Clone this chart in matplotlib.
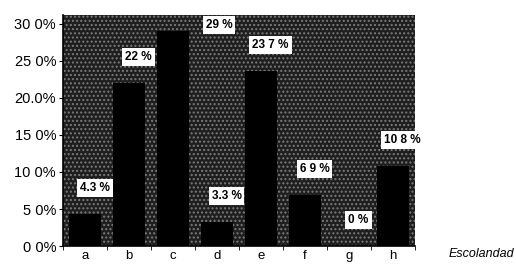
import numpy as np
import matplotlib
matplotlib.use("Agg")
import matplotlib.pyplot as plt
from matplotlib.patches import Rectangle

plt.rcParams['font.family'] = ['Liberation Sans', 'DejaVu Sans']

categories = ['a', 'b', 'c', 'd', 'e', 'f', 'g', 'h']
values = [4.3, 22.0, 29.0, 3.3, 23.7, 6.9, 0.0, 10.8]
bar_labels = ['4.3 %', '22 %', '29 %', '3.3 %', '23 7 %', '6 9 %', '0 %', '10 8 %']
ytick_vals = [0, 5, 10, 15, 20, 25, 30]
ytick_text = ['0 0%', '5 0%', '10 0%', '15 0%', '20.0%', '25 0%', '30 0%']
xname = 'Escolandad'

fig = plt.figure(figsize=(5.16, 2.68), dpi=100)
ax = fig.add_axes([0.122, 0.082, 0.682, 0.862])

# dark halftone-looking background
ax.set_facecolor('#1e1e1e')
ax.add_patch(Rectangle((0, 0), 1, 1, transform=ax.transAxes, facecolor='none',
                       edgecolor='#7a7a7a', hatch='....', linewidth=0, zorder=0.5))

x = np.arange(len(categories))
ax.bar(x, values, width=0.74, color='black', zorder=2)

ymax = 31.2
for i, (v, lab) in enumerate(zip(values, bar_labels)):
    ty = v + 3.5
    tx = i + 0.22
    if ty > 29.9:
        ty = 29.9
        tx = i + 1.05
    ax.text(tx, ty, lab, ha='center', va='center', fontsize=8.5, fontweight='bold',
            color='black', zorder=3,
            bbox=dict(boxstyle='square,pad=0.25', facecolor='white', edgecolor='none'))

ax.set_xlim(-0.5, len(categories) - 0.5)
ax.set_ylim(0, ymax)
ax.set_yticks(ytick_vals)
ax.set_yticklabels(ytick_text, fontsize=10.5)
ax.set_xticks(x)
ax.set_xticklabels(categories, fontsize=9.5)
ax.tick_params(axis='x', length=0, pad=3)
ax.set_xticks(np.arange(-0.5, len(categories)), minor=True)
ax.tick_params(axis='x', which='minor', length=3)
ax.tick_params(axis='y', length=3, pad=2)

for s in ['top', 'right']:
    ax.spines[s].set_visible(False)
ax.spines['left'].set_linewidth(1.2)
ax.spines['bottom'].set_linewidth(1.2)

fig.text(0.870, 0.028, xname, fontsize=9, style='italic', ha='left', va='bottom')

fig.savefig('out.png', dpi=100)
